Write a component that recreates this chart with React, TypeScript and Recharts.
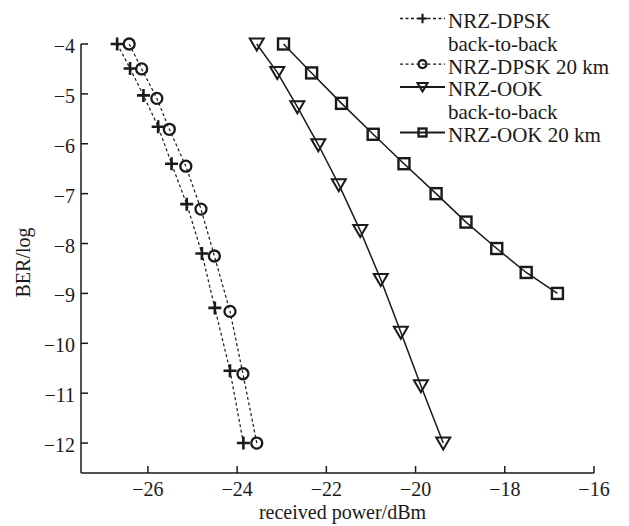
import React from "react";
import { LineChart, Line, XAxis, YAxis, Legend } from "recharts";

const POWER_DPSK_B2B = [-26.69, -26.4, -26.1, -25.77, -25.47, -25.13, -24.79, -24.5, -24.16, -23.86];
const BER_DPSK_B2B = [-4, -4.49, -5.03, -5.66, -6.4, -7.21, -8.2, -9.29, -10.55, -12];
const POWER_DPSK_20 = [-26.42, -26.14, -25.8, -25.52, -25.15, -24.81, -24.51, -24.16, -23.87, -23.56];
const BER_DPSK_20 = [-4, -4.5, -5.09, -5.71, -6.45, -7.31, -8.25, -9.36, -10.61, -12];
const POWER_OOK_B2B = [-23.56, -23.1, -22.65, -22.18, -21.72, -21.24, -20.78, -20.33, -19.88, -19.38];
const BER_OOK_B2B = [-4, -4.57, -5.26, -6.02, -6.82, -7.74, -8.72, -9.78, -10.85, -12];
const POWER_OOK_20 = [-22.96, -22.33, -21.66, -20.95, -20.26, -19.54, -18.87, -18.18, -17.52, -16.82];
const BER_OOK_20 = [-4, -4.58, -5.19, -5.81, -6.4, -7.0, -7.57, -8.1, -8.58, -9.0];

const X_TICKS = [-26, -24, -22, -20, -18, -16];
const Y_TICKS = [-4, -5, -6, -7, -8, -9, -10, -11, -12];

const INK = "#1a1a1a";
const FONT = '"Liberation Serif", "Times New Roman", serif';

const toPoints = (xs: number[], ys: number[]) => xs.map((x, i) => ({ x, y: ys[i] }));
const minus = (v: number) => String(v).replace("-", "\u2212");

function Plus({ cx, cy, s = 1 }: any) {
  const h = 6.5 * s;
  return (
    <path
      d={`M${cx - h},${cy}H${cx + h}M${cx},${cy - h}V${cy + h}`}
      stroke={INK}
      strokeWidth={2.6 * Math.min(1, s + 0.1)}
      fill="none"
    />
  );
}

function Ring({ cx, cy, s = 1 }: any) {
  return <circle cx={cx} cy={cy} r={5.5 * s} stroke={INK} strokeWidth={2.3} fill="#fff" fillOpacity={0} />;
}

function Tri({ cx, cy, s = 1 }: any) {
  return (
    <path
      d={`M${cx - 7 * s},${cy - 5.5 * s}L${cx + 7 * s},${cy - 5.5 * s}L${cx},${cy + 6.5 * s}Z`}
      stroke={INK}
      strokeWidth={2}
      fill="none"
    />
  );
}

function Square({ cx, cy, s = 1 }: any) {
  const h = 5.5 * s;
  return <rect x={cx - h} y={cy - h} width={2 * h} height={2 * h} stroke={INK} strokeWidth={2.4} fill="none" />;
}

const SERIES = [
  { key: "dpskB2b", lines: ["NRZ-DPSK", "back-to-back"], data: toPoints(POWER_DPSK_B2B, BER_DPSK_B2B), Marker: Plus, dash: "3 2.5", width: 1.2 },
  { key: "dpsk20", lines: ["NRZ-DPSK 20 km"], data: toPoints(POWER_DPSK_20, BER_DPSK_20), Marker: Ring, dash: "3 2.5", width: 1.2 },
  { key: "ookB2b", lines: ["NRZ-OOK", "back-to-back"], data: toPoints(POWER_OOK_B2B, BER_OOK_B2B), Marker: Tri, dash: undefined, width: 1.5 },
  { key: "ook20", lines: ["NRZ-OOK 20 km"], data: toPoints(POWER_OOK_20, BER_OOK_20), Marker: Square, dash: undefined, width: 1.5 },
];

function XTick({ x, y, payload }: any) {
  return (
    <g>
      <line x1={x} x2={x} y1={y - 10} y2={y - 17} stroke={INK} strokeWidth={1.5} />
      <text x={x} y={y} dy={13} textAnchor="middle" fontFamily={FONT} fontSize={20} fill={INK}>
        {minus(payload.value)}
      </text>
    </g>
  );
}

function YTick({ x, y, payload }: any) {
  return (
    <g>
      <line x1={x + 6} x2={x + 13} y1={y} y2={y} stroke={INK} strokeWidth={1.5} />
      <text x={x} y={y} dy={9} textAnchor="end" fontFamily={FONT} fontSize={20} fill={INK}>
        {minus(payload.value)}
      </text>
    </g>
  );
}

function LegendBox() {
  const rowH = 22.8;
  let row = 0;
  const items = SERIES.map((s) => {
    const base = 28 + row * rowH;
    row += s.lines.length;
    const my = base - 9.5;
    return (
      <g key={s.key}>
        <line x1={20} x2={65} y1={my} y2={my} stroke={INK} strokeWidth={s.dash ? 1.3 : 2} strokeDasharray={s.dash} />
        <s.Marker cx={42.5} cy={my} s={0.72} />
        {s.lines.map((t, i) => (
          <text key={t + i} x={68} y={base + i * rowH} fontFamily={FONT} fontSize={21} fill={INK}>
            {t}
          </text>
        ))}
      </g>
    );
  });
  return (
    <svg width={249} height={160} style={{ display: "block" }}>
      {items}
    </svg>
  );
}

export default function App() {
  return (
    <div style={{ position: "absolute", left: 0, top: 0, width: 629, height: 526, background: "#fff" }}>
      <LineChart width={629} height={526} margin={{ top: 44, right: 35, bottom: 0, left: 0 }}>
        <XAxis
          type="number"
          dataKey="x"
          domain={[-27.5, -16]}
          ticks={X_TICKS}
          height={53}
          tickSize={0}
          tickMargin={10}
          tick={<XTick />}
          axisLine={{ stroke: INK, strokeWidth: 1.5 }}
          label={{
            content: ({ viewBox }: any) => (
              <text
                x={viewBox.x + viewBox.width / 2 + 5}
                y={viewBox.y + 46}
                textAnchor="middle"
                fontFamily={FONT}
                fontSize={20}
                fill={INK}
              >
                received power/dBm
              </text>
            ),
          }}
        />
        <YAxis
          type="number"
          dataKey="y"
          domain={[-12.6, -4]}
          ticks={Y_TICKS}
          width={81}
          tickSize={0}
          tickMargin={6}
          tick={<YTick />}
          axisLine={{ stroke: INK, strokeWidth: 1.5 }}
          label={{
            content: ({ viewBox }: any) => {
              const cx = viewBox.x + 30;
              const cy = viewBox.y + viewBox.height / 2 + 4;
              return (
                <text
                  x={cx}
                  y={cy}
                  transform={`rotate(-90 ${cx} ${cy})`}
                  textAnchor="middle"
                  fontFamily={FONT}
                  fontSize={20}
                  fill={INK}
                >
                  BER/log
                </text>
              );
            },
          }}
        />
        <Legend
          layout="vertical"
          align="center"
          verticalAlign="middle"
          wrapperStyle={{ top: 0, left: 380, width: 249, height: 160 }}
          content={() => <LegendBox />}
        />
        {SERIES.map((s) => (
          <Line
            key={s.key}
            data={s.data}
            dataKey="y"
            type="linear"
            stroke={INK}
            strokeWidth={s.width}
            strokeDasharray={s.dash}
            dot={(p: any) => <s.Marker key={`${s.key}-${p.index}`} cx={p.cx} cy={p.cy} />}
            activeDot={false}
            isAnimationActive={false}
          />
        ))}
      </LineChart>
    </div>
  );
}
